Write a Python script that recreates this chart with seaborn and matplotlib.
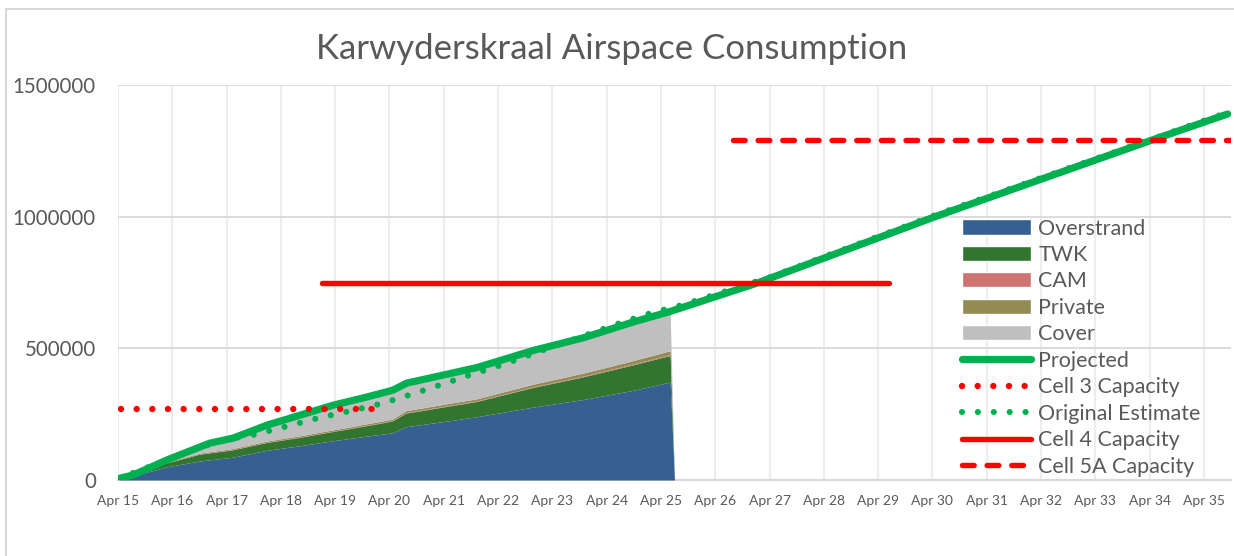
import numpy as np
import pandas as pd
import matplotlib
matplotlib.use("Agg")
import matplotlib.pyplot as plt
import seaborn as sns
from matplotlib.patches import Patch, Rectangle
from matplotlib.lines import Line2D

# ---------------- data (x = years after April 2015) ----------------
tick_labels = ["Apr 15", "Apr 16", "Apr 17", "Apr 18", "Apr 19", "Apr 20", "Apr 21",
               "Apr 22", "Apr 23", "Apr 24", "Apr 25", "Apr 26", "Apr 27", "Apr 28",
               "Apr 29", "Apr 30", "Apr 31", "Apr 32", "Apr 33", "Apr 34", "Apr 35"]

stack_t = [0, 0.9, 1.5, 2.1, 2.75, 3.35, 3.95, 4.6, 5.05, 5.3, 6.1, 6.6, 7.65, 8.55,
           9.5, 10.17, 10.25]
overstrand = [0, 50000, 72000, 86000, 113000, 130000, 149000, 167000, 179000, 202000,
              225000, 240000, 277000, 305000, 341000, 372000, 0]
twk = [0, 15000, 26000, 28000, 30000, 32000, 35000, 40000, 45000, 52000, 56000, 58000,
       75000, 86000, 97000, 101000, 0]
cam = [0, 1000, 1000, 1000, 1000, 1000, 1000, 1000, 1000, 2000, 2000, 2000, 2000, 3000,
       3000, 4000, 0]
private = [0, 2000, 3000, 4000, 4000, 5000, 5000, 6000, 6000, 7000, 8000, 8000, 10000,
           11000, 13000, 14000, 0]
cover = [0, 4000, 23000, 36000, 57000, 75000, 90000, 98000, 106000, 101000, 109000,
         115000, 123000, 130000, 142000, 149000, 0]

proj_t = [0, 0.28, 0.9, 1.69, 2.12, 2.74, 3.35, 3.96, 4.58, 5.06, 5.32, 6.11, 6.61, 7.65,
          8.57, 9.49, 10.17, 11.76, 15.05, 19.06, 20.44]
projected = [5000, 19000, 76000, 140000, 159000, 208000, 246000, 284000, 315000, 341000,
             368000, 404000, 427000, 492000, 540000, 600000, 640000, 747000, 1000000,
             1292000, 1390000]

orig_t = [0, 0.9, 1.45, 2.0, 2.55, 3.15, 3.7, 4.3, 4.85, 5.4, 5.95, 6.5, 7.1, 7.65, 8.75,
          9.3, 9.85, 10.4, 12.0, 15.05, 20.44]
original = [5000, 76000, 120000, 154000, 174000, 206000, 236000, 263000, 290000, 325000,
            362000, 400000, 439000, 480000, 560000, 600000, 636000, 665000, 770000,
            1006000, 1396000]

cell3_t = [0.05, 4.85]
cell3 = [270000, 270000]
cell4_t = [3.75, 14.2]
cell4 = [750000, 750000]
cell5a_t = [11.33, 20.5]
cell5a = [1290000, 1290000]

# ---------------- style ----------------
sns.set_style("white")
plt.rcParams["font.family"] = ["Lato", "DejaVu Sans"]
TXT = "#595959"

c_over, c_twk, c_cam, c_priv, c_cov = "#36608F", "#31752F", "#CD7371", "#948A54", "#BFBFBF"
GREEN, RED = "#00B050", "#FF0000"

fig = plt.figure(figsize=(12.34, 5.56), dpi=100)
ax = fig.add_axes([118 / 1234, 1 - 480 / 556, (1231 - 118) / 1234, (480 - 85) / 556])

ax.stackplot(stack_t, overstrand, twk, cam, private, cover,
             colors=[c_over, c_twk, c_cam, c_priv, c_cov], linewidth=0, zorder=2)

sns.lineplot(x=proj_t, y=projected, ax=ax, color=GREEN, linewidth=5.2,
             solid_capstyle="round", zorder=3, sort=False, estimator=None)
sns.lineplot(x=cell3_t, y=cell3, ax=ax, color=RED, linewidth=4.6,
             linestyle=(0, (0.001, 2.45)), dash_capstyle="round", zorder=4,
             sort=False, estimator=None)
sns.lineplot(x=orig_t, y=original, ax=ax, color=GREEN, linewidth=4.4,
             linestyle=(0, (0.001, 2.6)), dash_capstyle="round", zorder=5,
             sort=False, estimator=None)
sns.lineplot(x=cell4_t, y=cell4, ax=ax, color=RED, linewidth=3.9,
             solid_capstyle="round", zorder=6, sort=False, estimator=None)
sns.lineplot(x=cell5a_t, y=cell5a, ax=ax, color=RED, linewidth=3.9,
             linestyle=(0, (2.15, 2.4)), dash_capstyle="round", zorder=7,
             sort=False, estimator=None)

ax.set_xlim(0, 20.5)
ax.set_ylim(0, 1500000)
ax.set_xticks(range(len(tick_labels)))
ax.set_xticklabels(tick_labels)
ax.set_yticks([0, 500000, 1000000, 1500000])
ax.set_yticklabels(["0", "500000", "1000000", "1500000"])
ax.tick_params(axis="x", length=0, pad=11, labelsize=10, labelcolor=TXT)
ax.tick_params(axis="y", length=0, pad=16, labelsize=14.8, labelcolor=TXT)

ax.grid(False)
for t in range(len(tick_labels)):
    ax.axvline(t, color="#EDEDED", lw=1.6, zorder=0)
for v in [500000, 1000000, 1500000]:
    ax.axhline(v, color="#D9D9D9", lw=1.3, zorder=0)

for s in ["left", "right", "top"]:
    ax.spines[s].set_visible(False)
ax.spines["bottom"].set_color("#D9D9D9")
ax.spines["bottom"].set_linewidth(1.5)
ax.spines["bottom"].set_zorder(1)

ax.set_ylabel("")
ax.set_xlabel("")

handles = [
    Patch(facecolor=c_over, label="Overstrand"),
    Patch(facecolor=c_twk, label="TWK"),
    Patch(facecolor=c_cam, label="CAM"),
    Patch(facecolor=c_priv, label="Private"),
    Patch(facecolor=c_cov, label="Cover"),
    Line2D([], [], color=GREEN, lw=5.2, solid_capstyle="round", label="Projected"),
    Line2D([], [], color=RED, lw=4.6, linestyle=(0, (0.001, 2.45)),
           dash_capstyle="round", label="Cell 3 Capacity"),
    Line2D([], [], color=GREEN, lw=4.4, linestyle=(0, (0.001, 2.6)),
           dash_capstyle="round", label="Original Estimate"),
    Line2D([], [], color=RED, lw=3.9, solid_capstyle="round", label="Cell 4 Capacity"),
    Line2D([], [], color=RED, lw=3.9, linestyle=(0, (2.15, 2.4)),
           dash_capstyle="round", label="Cell 5A Capacity"),
]
leg = ax.legend(handles=handles, loc="upper left", bbox_to_anchor=(0.7583, 0.662),
                frameon=False, fontsize=15.5, labelcolor=TXT, borderpad=0,
                borderaxespad=0, handlelength=3.2, handletextpad=0.35,
                labelspacing=0.3, handleheight=0.7)
leg.set_zorder(10)

fig.text(612 / 1234, 1 - 49 / 556, "Karwyderskraal Airspace Consumption",
         ha="center", va="center", fontsize=25, color=TXT, fontweight="normal")

fig.patches.append(Rectangle((6 / 1234, -0.05), 1.2, 1 - 9 / 556 + 0.05,
                             transform=fig.transFigure, fill=False,
                             edgecolor="#D9D9D9", linewidth=1.5, zorder=-1))

fig.savefig("out.png", dpi=100)
